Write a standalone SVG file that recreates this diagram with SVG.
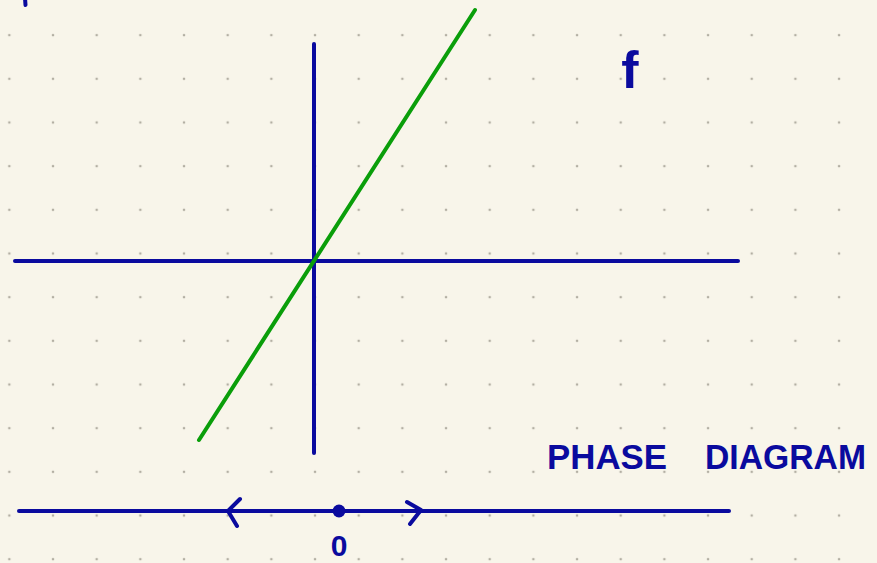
<svg xmlns="http://www.w3.org/2000/svg" width="877" height="563" viewBox="0 0 877 563">
<defs>
<pattern id="dots" patternUnits="userSpaceOnUse" x="-12.5" y="13.3" width="43.67" height="43.67">
<circle cx="21.83" cy="21.83" r="1.3" fill="#b3afa3"/>
</pattern>
<style>
.ax{stroke:#0a0a9e;stroke-width:4;stroke-linecap:round;stroke-linejoin:round;fill:none}
.gr{stroke:#0a9e0a;stroke-width:4;stroke-linecap:round;fill:none}
.t{fill:#0a0a9e;font-family:"Liberation Sans",Arial,sans-serif;font-weight:bold}
</style>
</defs>
<rect width="877" height="563" fill="#f8f5ea"/>
<rect width="877" height="563" fill="url(#dots)"/>
<path class="ax" d="M25 -2 L25.5 5"/>
<g id="connectors">
<line class="ax" x1="314" y1="44" x2="314" y2="453"/>
<line class="ax" x1="15" y1="261" x2="738" y2="261"/>
<line class="gr" x1="475" y1="10" x2="199" y2="440"/>
<line class="ax" x1="19" y1="511" x2="729" y2="511"/>
<path class="ax" d="M240 499 L228 511 L237 526"/>
<path class="ax" d="M407 502 L421 510 L410 524"/>
</g>
<g id="equilibrium">
<circle cx="339" cy="511" r="6.5" fill="#0a0a9e"/>
<text class="t" x="339" y="556" font-size="30" text-anchor="middle">0</text>
</g>
<g id="label-f">
<text class="t" x="630" y="88" font-size="52" text-anchor="middle">f</text>
</g>
<g id="title">
<text class="t" x="547" y="469" font-size="35" textLength="120" lengthAdjust="spacingAndGlyphs">PHASE</text>
<text class="t" x="705" y="469" font-size="35" textLength="161" lengthAdjust="spacingAndGlyphs">DIAGRAM</text>
</g>
</svg>
